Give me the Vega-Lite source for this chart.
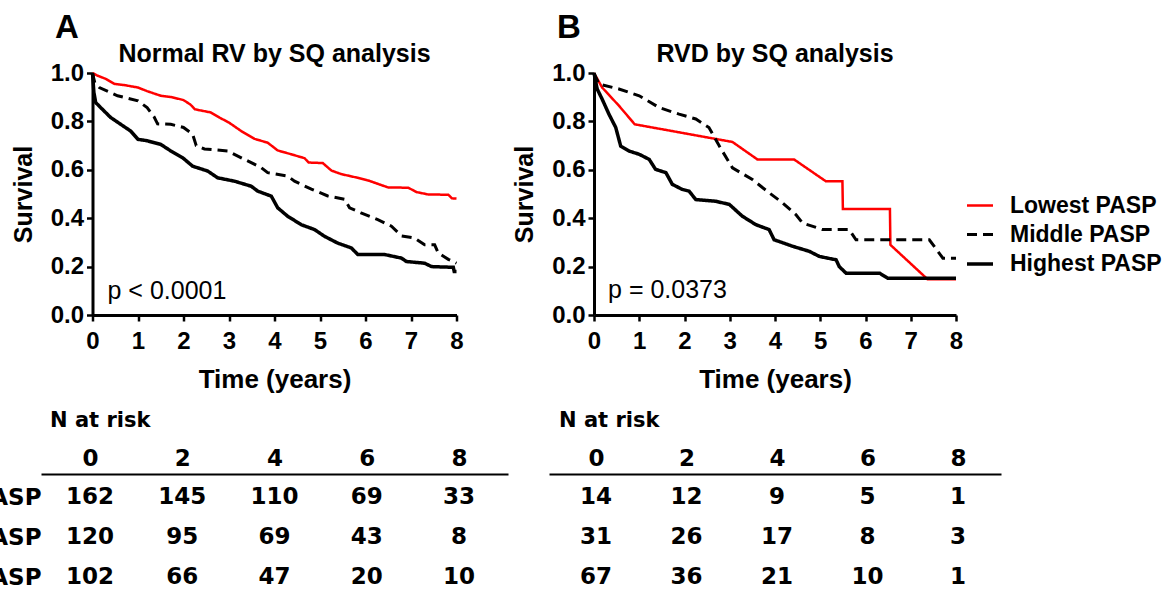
{
  "$schema": "https://vega.github.io/schema/vega-lite/v6.json",
  "autosize": {"type": "pad"},
  "padding": {"left": -134, "top": 12, "right": 5, "bottom": 5},
  "background": "white",
  "config": {
    "view": {"stroke": null},
    "font": "Liberation Sans",
    "axis": {"grid": false, "domainColor": "#000", "tickColor": "#000", "labelColor": "#000", "titleColor": "#000", "labelFlush": false, "labelOverlap": false, "labelBound": false},
    "title": {"color": "#000"},
    "text": {"color": "#000"}
  },
  "datasets": {
    "curveA": [
      {"group": "Lowest PASP", "t": 0, "s": 1.0}, {"group": "Lowest PASP", "t": 0.1, "s": 0.99}, {"group": "Lowest PASP", "t": 0.3, "s": 0.975}, {"group": "Lowest PASP", "t": 0.48, "s": 0.955}, {"group": "Lowest PASP", "t": 0.7, "s": 0.95}, {"group": "Lowest PASP", "t": 1.0, "s": 0.94}, {"group": "Lowest PASP", "t": 1.2, "s": 0.925}, {"group": "Lowest PASP", "t": 1.5, "s": 0.906}, {"group": "Lowest PASP", "t": 1.75, "s": 0.9}, {"group": "Lowest PASP", "t": 2.0, "s": 0.888}, {"group": "Lowest PASP", "t": 2.15, "s": 0.87}, {"group": "Lowest PASP", "t": 2.25, "s": 0.85}, {"group": "Lowest PASP", "t": 2.6, "s": 0.837}, {"group": "Lowest PASP", "t": 2.8, "s": 0.815}, {"group": "Lowest PASP", "t": 3.0, "s": 0.795}, {"group": "Lowest PASP", "t": 3.27, "s": 0.76}, {"group": "Lowest PASP", "t": 3.56, "s": 0.728}, {"group": "Lowest PASP", "t": 3.85, "s": 0.712}, {"group": "Lowest PASP", "t": 4.07, "s": 0.68}, {"group": "Lowest PASP", "t": 4.37, "s": 0.664}, {"group": "Lowest PASP", "t": 4.66, "s": 0.648}, {"group": "Lowest PASP", "t": 4.75, "s": 0.63}, {"group": "Lowest PASP", "t": 5.06, "s": 0.628}, {"group": "Lowest PASP", "t": 5.25, "s": 0.597}, {"group": "Lowest PASP", "t": 5.47, "s": 0.582}, {"group": "Lowest PASP", "t": 5.83, "s": 0.567}, {"group": "Lowest PASP", "t": 6.06, "s": 0.556}, {"group": "Lowest PASP", "t": 6.3, "s": 0.54}, {"group": "Lowest PASP", "t": 6.5, "s": 0.527}, {"group": "Lowest PASP", "t": 6.94, "s": 0.526}, {"group": "Lowest PASP", "t": 7.12, "s": 0.508}, {"group": "Lowest PASP", "t": 7.38, "s": 0.498}, {"group": "Lowest PASP", "t": 7.82, "s": 0.497}, {"group": "Lowest PASP", "t": 7.9, "s": 0.482}, {"group": "Lowest PASP", "t": 8.0, "s": 0.481},
      {"group": "Middle PASP", "t": 0, "s": 1.0}, {"group": "Middle PASP", "t": 0.05, "s": 0.96}, {"group": "Middle PASP", "t": 0.15, "s": 0.94}, {"group": "Middle PASP", "t": 0.55, "s": 0.906}, {"group": "Middle PASP", "t": 1.0, "s": 0.885}, {"group": "Middle PASP", "t": 1.2, "s": 0.857}, {"group": "Middle PASP", "t": 1.35, "s": 0.82}, {"group": "Middle PASP", "t": 1.43, "s": 0.79}, {"group": "Middle PASP", "t": 1.72, "s": 0.788}, {"group": "Middle PASP", "t": 2.0, "s": 0.775}, {"group": "Middle PASP", "t": 2.2, "s": 0.747}, {"group": "Middle PASP", "t": 2.28, "s": 0.7}, {"group": "Middle PASP", "t": 2.46, "s": 0.686}, {"group": "Middle PASP", "t": 2.97, "s": 0.678}, {"group": "Middle PASP", "t": 3.34, "s": 0.643}, {"group": "Middle PASP", "t": 3.7, "s": 0.61}, {"group": "Middle PASP", "t": 3.85, "s": 0.588}, {"group": "Middle PASP", "t": 4.29, "s": 0.574}, {"group": "Middle PASP", "t": 4.44, "s": 0.553}, {"group": "Middle PASP", "t": 4.81, "s": 0.52}, {"group": "Middle PASP", "t": 5.17, "s": 0.492}, {"group": "Middle PASP", "t": 5.54, "s": 0.478}, {"group": "Middle PASP", "t": 5.65, "s": 0.443}, {"group": "Middle PASP", "t": 5.9, "s": 0.422}, {"group": "Middle PASP", "t": 6.27, "s": 0.394}, {"group": "Middle PASP", "t": 6.57, "s": 0.367}, {"group": "Middle PASP", "t": 6.79, "s": 0.327}, {"group": "Middle PASP", "t": 7.08, "s": 0.318}, {"group": "Middle PASP", "t": 7.3, "s": 0.29}, {"group": "Middle PASP", "t": 7.52, "s": 0.29}, {"group": "Middle PASP", "t": 7.6, "s": 0.256}, {"group": "Middle PASP", "t": 7.82, "s": 0.23}, {"group": "Middle PASP", "t": 8.0, "s": 0.214},
      {"group": "Highest PASP", "t": 0, "s": 1.0}, {"group": "Highest PASP", "t": 0.03, "s": 0.92}, {"group": "Highest PASP", "t": 0.07, "s": 0.878}, {"group": "Highest PASP", "t": 0.18, "s": 0.857}, {"group": "Highest PASP", "t": 0.4, "s": 0.816}, {"group": "Highest PASP", "t": 0.62, "s": 0.788}, {"group": "Highest PASP", "t": 0.84, "s": 0.76}, {"group": "Highest PASP", "t": 1.0, "s": 0.726}, {"group": "Highest PASP", "t": 1.2, "s": 0.72}, {"group": "Highest PASP", "t": 1.5, "s": 0.705}, {"group": "Highest PASP", "t": 1.72, "s": 0.678}, {"group": "Highest PASP", "t": 1.98, "s": 0.65}, {"group": "Highest PASP", "t": 2.2, "s": 0.615}, {"group": "Highest PASP", "t": 2.53, "s": 0.595}, {"group": "Highest PASP", "t": 2.75, "s": 0.567}, {"group": "Highest PASP", "t": 3.12, "s": 0.553}, {"group": "Highest PASP", "t": 3.49, "s": 0.532}, {"group": "Highest PASP", "t": 3.63, "s": 0.512}, {"group": "Highest PASP", "t": 3.93, "s": 0.491}, {"group": "Highest PASP", "t": 4.07, "s": 0.443}, {"group": "Highest PASP", "t": 4.29, "s": 0.408}, {"group": "Highest PASP", "t": 4.59, "s": 0.373}, {"group": "Highest PASP", "t": 4.88, "s": 0.353}, {"group": "Highest PASP", "t": 5.1, "s": 0.325}, {"group": "Highest PASP", "t": 5.39, "s": 0.297}, {"group": "Highest PASP", "t": 5.69, "s": 0.277}, {"group": "Highest PASP", "t": 5.83, "s": 0.25}, {"group": "Highest PASP", "t": 6.42, "s": 0.25}, {"group": "Highest PASP", "t": 6.79, "s": 0.235}, {"group": "Highest PASP", "t": 6.9, "s": 0.221}, {"group": "Highest PASP", "t": 7.3, "s": 0.214}, {"group": "Highest PASP", "t": 7.45, "s": 0.2}, {"group": "Highest PASP", "t": 7.93, "s": 0.197}, {"group": "Highest PASP", "t": 7.95, "s": 0.18}, {"group": "Highest PASP", "t": 8.0, "s": 0.18}
    ],
    "curveB": [
      {"group": "Lowest PASP", "t": 0, "s": 1.0}, {"group": "Lowest PASP", "t": 0.18, "s": 0.94}, {"group": "Lowest PASP", "t": 0.55, "s": 0.865}, {"group": "Lowest PASP", "t": 0.9, "s": 0.788}, {"group": "Lowest PASP", "t": 3.06, "s": 0.715}, {"group": "Lowest PASP", "t": 3.61, "s": 0.643}, {"group": "Lowest PASP", "t": 4.42, "s": 0.643}, {"group": "Lowest PASP", "t": 5.12, "s": 0.553}, {"group": "Lowest PASP", "t": 5.49, "s": 0.553}, {"group": "Lowest PASP", "t": 5.5, "s": 0.438}, {"group": "Lowest PASP", "t": 6.54, "s": 0.438}, {"group": "Lowest PASP", "t": 6.55, "s": 0.29}, {"group": "Lowest PASP", "t": 7.37, "s": 0.148}, {"group": "Lowest PASP", "t": 8.0, "s": 0.148},
      {"group": "Middle PASP", "t": 0, "s": 1.0}, {"group": "Middle PASP", "t": 0.11, "s": 0.954}, {"group": "Middle PASP", "t": 0.55, "s": 0.934}, {"group": "Middle PASP", "t": 1.0, "s": 0.906}, {"group": "Middle PASP", "t": 1.44, "s": 0.857}, {"group": "Middle PASP", "t": 1.88, "s": 0.83}, {"group": "Middle PASP", "t": 2.25, "s": 0.81}, {"group": "Middle PASP", "t": 2.54, "s": 0.775}, {"group": "Middle PASP", "t": 2.77, "s": 0.698}, {"group": "Middle PASP", "t": 3.06, "s": 0.608}, {"group": "Middle PASP", "t": 3.5, "s": 0.56}, {"group": "Middle PASP", "t": 3.87, "s": 0.505}, {"group": "Middle PASP", "t": 4.17, "s": 0.463}, {"group": "Middle PASP", "t": 4.46, "s": 0.415}, {"group": "Middle PASP", "t": 4.61, "s": 0.38}, {"group": "Middle PASP", "t": 5.05, "s": 0.353}, {"group": "Middle PASP", "t": 5.64, "s": 0.353}, {"group": "Middle PASP", "t": 5.79, "s": 0.311}, {"group": "Middle PASP", "t": 7.41, "s": 0.311}, {"group": "Middle PASP", "t": 7.71, "s": 0.235}, {"group": "Middle PASP", "t": 8.0, "s": 0.235},
      {"group": "Highest PASP", "t": 0, "s": 1.0}, {"group": "Highest PASP", "t": 0.07, "s": 0.934}, {"group": "Highest PASP", "t": 0.18, "s": 0.892}, {"group": "Highest PASP", "t": 0.33, "s": 0.83}, {"group": "Highest PASP", "t": 0.48, "s": 0.775}, {"group": "Highest PASP", "t": 0.59, "s": 0.698}, {"group": "Highest PASP", "t": 0.77, "s": 0.678}, {"group": "Highest PASP", "t": 1.0, "s": 0.664}, {"group": "Highest PASP", "t": 1.22, "s": 0.643}, {"group": "Highest PASP", "t": 1.36, "s": 0.602}, {"group": "Highest PASP", "t": 1.59, "s": 0.588}, {"group": "Highest PASP", "t": 1.73, "s": 0.54}, {"group": "Highest PASP", "t": 1.95, "s": 0.519}, {"group": "Highest PASP", "t": 2.1, "s": 0.512}, {"group": "Highest PASP", "t": 2.25, "s": 0.477}, {"group": "Highest PASP", "t": 2.69, "s": 0.47}, {"group": "Highest PASP", "t": 2.99, "s": 0.457}, {"group": "Highest PASP", "t": 3.28, "s": 0.408}, {"group": "Highest PASP", "t": 3.58, "s": 0.373}, {"group": "Highest PASP", "t": 3.87, "s": 0.353}, {"group": "Highest PASP", "t": 3.98, "s": 0.311}, {"group": "Highest PASP", "t": 4.39, "s": 0.284}, {"group": "Highest PASP", "t": 4.76, "s": 0.263}, {"group": "Highest PASP", "t": 4.98, "s": 0.242}, {"group": "Highest PASP", "t": 5.35, "s": 0.228}, {"group": "Highest PASP", "t": 5.42, "s": 0.2}, {"group": "Highest PASP", "t": 5.57, "s": 0.173}, {"group": "Highest PASP", "t": 6.31, "s": 0.173}, {"group": "Highest PASP", "t": 6.49, "s": 0.152}, {"group": "Highest PASP", "t": 8.0, "s": 0.152}
    ],
    "riskA": [
      {"group": "Lowest PASP", "t": 0, "n": 162}, {"group": "Lowest PASP", "t": 2, "n": 145}, {"group": "Lowest PASP", "t": 4, "n": 110}, {"group": "Lowest PASP", "t": 6, "n": 69}, {"group": "Lowest PASP", "t": 8, "n": 33},
      {"group": "Middle PASP", "t": 0, "n": 120}, {"group": "Middle PASP", "t": 2, "n": 95}, {"group": "Middle PASP", "t": 4, "n": 69}, {"group": "Middle PASP", "t": 6, "n": 43}, {"group": "Middle PASP", "t": 8, "n": 8},
      {"group": "Highest PASP", "t": 0, "n": 102}, {"group": "Highest PASP", "t": 2, "n": 66}, {"group": "Highest PASP", "t": 4, "n": 47}, {"group": "Highest PASP", "t": 6, "n": 20}, {"group": "Highest PASP", "t": 8, "n": 10}
    ],
    "riskB": [
      {"group": "Lowest PASP", "t": 0, "n": 14}, {"group": "Lowest PASP", "t": 2, "n": 12}, {"group": "Lowest PASP", "t": 4, "n": 9}, {"group": "Lowest PASP", "t": 6, "n": 5}, {"group": "Lowest PASP", "t": 8, "n": 1},
      {"group": "Middle PASP", "t": 0, "n": 31}, {"group": "Middle PASP", "t": 2, "n": 26}, {"group": "Middle PASP", "t": 4, "n": 17}, {"group": "Middle PASP", "t": 6, "n": 8}, {"group": "Middle PASP", "t": 8, "n": 3},
      {"group": "Highest PASP", "t": 0, "n": 67}, {"group": "Highest PASP", "t": 2, "n": 36}, {"group": "Highest PASP", "t": 4, "n": 21}, {"group": "Highest PASP", "t": 6, "n": 10}, {"group": "Highest PASP", "t": 8, "n": 1}
    ]
  },
  "hconcat": [
    {
      "title": {"text": "A", "anchor": "start", "frame": "group", "dx": 14, "fontSize": 33, "fontWeight": "bold", "font": "Liberation Sans", "offset": -3},
      "vconcat": [
        {
          "width": 364, "height": 242,
          "title": {"text": "Normal RV by SQ analysis", "fontSize": 25, "fontWeight": "bold", "font": "Liberation Sans", "anchor": "middle", "frame": "group", "offset": -6},
          "layer": [
            {
              "data": {"name": "curveA"},
              "mark": {"type": "line", "strokeJoin": "miter"},
              "encoding": {
                "x": {"field": "t", "type": "quantitative", "scale": {"domain": [0, 8], "nice": false, "zero": false}, "axis": {"title": "Time (years)", "values": [0, 1, 2, 3, 4, 5, 6, 7, 8], "format": "d", "domainWidth": 3, "tickWidth": 2.5, "tickSize": 6, "labelFontSize": 24, "labelFontWeight": "bold", "labelPadding": 8, "titleFontSize": 26, "titleFontWeight": "bold", "titlePadding": 13}},
                "y": {"field": "s", "type": "quantitative", "scale": {"domain": [0, 1], "nice": false}, "axis": {"title": "Survival", "values": [0, 0.2, 0.4, 0.6, 0.8, 1.0], "format": ".1f", "domainWidth": 3, "tickWidth": 2.5, "tickSize": 6, "labelFontSize": 24, "labelFontWeight": "bold", "labelPadding": 3, "titleFontSize": 25, "titleFontWeight": "bold", "titlePadding": 14}},
                "color": {"field": "group", "type": "ordinal", "scale": {"domain": ["Lowest PASP", "Middle PASP", "Highest PASP"], "range": ["#ff0000", "#000000", "#000000"]}, "legend": null},
                "strokeDash": {"field": "group", "type": "ordinal", "scale": {"domain": ["Lowest PASP", "Middle PASP", "Highest PASP"], "range": [[1, 0], [10, 6], [1, 0]]}, "legend": null},
                "strokeWidth": {"field": "group", "type": "ordinal", "scale": {"domain": ["Lowest PASP", "Middle PASP", "Highest PASP"], "range": [2.5, 3.5, 4.5]}, "legend": null}
              }
            },
            {
              "data": {"values": [{}]},
              "mark": {"type": "text", "align": "left", "baseline": "middle", "fontSize": 25, "font": "Liberation Sans"},
              "encoding": {"x": {"datum": 0.33}, "y": {"datum": 0.1}, "text": {"value": "p < 0.0001"}}
            }
          ]
        },
        {
          "width": 467, "height": 126,
          "data": {"name": "riskA"},
          "title": {"text": "N at risk", "anchor": "start", "frame": "group", "dx": 9, "fontSize": 21, "font": "DejaVu Sans", "fontWeight": "bold", "offset": 16},
          "mark": {"type": "text", "font": "DejaVu Sans", "fontWeight": "bold", "fontSize": 23},
          "encoding": {
            "x": {"field": "t", "type": "quantitative", "scale": {"domain": [-1.06, 9.06], "nice": false, "zero": false}, "axis": {"orient": "top", "values": [0, 2, 4, 6, 8], "format": "d", "title": null, "ticks": false, "tickSize": 0, "domainWidth": 2, "labelFont": "DejaVu Sans", "labelFontWeight": "bold", "labelFontSize": 23, "labelPadding": 4}},
            "y": {"field": "group", "type": "ordinal", "scale": {"type": "point", "domain": ["Lowest PASP", "Middle PASP", "Highest PASP"], "padding": 0.575}, "axis": {"title": null, "domain": false, "ticks": false, "tickSize": 0, "labelPadding": 0, "labelFont": "DejaVu Sans", "labelFontWeight": "bold", "labelFontSize": 23}},
            "text": {"field": "n", "type": "quantitative"}
          }
        }
      ],
      "spacing": 159,
      "center": true,
      "bounds": "flush",
      "resolve": {"scale": {"x": "independent", "y": "independent", "color": "independent", "strokeDash": "independent", "strokeWidth": "independent"}}
    },
    {
      "title": {"text": "B", "anchor": "start", "frame": "group", "dx": 8, "fontSize": 33, "fontWeight": "bold", "font": "Liberation Sans", "offset": -3},
      "vconcat": [
        {
          "width": 362, "height": 242,
          "title": {"text": "RVD by SQ analysis", "fontSize": 25, "fontWeight": "bold", "font": "Liberation Sans", "anchor": "middle", "frame": "group", "offset": -6},
          "layer": [
            {
              "data": {"name": "curveB"},
              "mark": {"type": "line", "strokeJoin": "miter"},
              "encoding": {
                "x": {"field": "t", "type": "quantitative", "scale": {"domain": [0, 8], "nice": false, "zero": false}, "axis": {"title": "Time (years)", "values": [0, 1, 2, 3, 4, 5, 6, 7, 8], "format": "d", "domainWidth": 3, "tickWidth": 2.5, "tickSize": 6, "labelFontSize": 24, "labelFontWeight": "bold", "labelPadding": 8, "titleFontSize": 26, "titleFontWeight": "bold", "titlePadding": 13}},
                "y": {"field": "s", "type": "quantitative", "scale": {"domain": [0, 1], "nice": false}, "axis": {"title": "Survival", "values": [0, 0.2, 0.4, 0.6, 0.8, 1.0], "format": ".1f", "domainWidth": 3, "tickWidth": 2.5, "tickSize": 6, "labelFontSize": 24, "labelFontWeight": "bold", "labelPadding": 3, "titleFontSize": 25, "titleFontWeight": "bold", "titlePadding": 14}},
                "color": {"field": "group", "type": "ordinal", "scale": {"domain": ["Lowest PASP", "Middle PASP", "Highest PASP"], "range": ["#ff0000", "#000000", "#000000"]}, "legend": {"orient": "none", "legendX": 371, "legendY": 118, "title": null, "symbolType": "stroke", "symbolSize": 676, "labelFontSize": 23, "labelFontWeight": "bold", "labelFont": "Liberation Sans", "labelColor": "#000", "labelOffset": 15, "rowPadding": 2}},
                "strokeDash": {"field": "group", "type": "ordinal", "scale": {"domain": ["Lowest PASP", "Middle PASP", "Highest PASP"], "range": [[1, 0], [10, 6], [1, 0]]}},
                "strokeWidth": {"field": "group", "type": "ordinal", "scale": {"domain": ["Lowest PASP", "Middle PASP", "Highest PASP"], "range": [2.5, 3.5, 4.5]}}
              }
            },
            {
              "data": {"values": [{}]},
              "mark": {"type": "text", "align": "left", "baseline": "middle", "fontSize": 25, "font": "Liberation Sans"},
              "encoding": {"x": {"datum": 0.31}, "y": {"datum": 0.105}, "text": {"value": "p = 0.0373"}}
            }
          ]
        },
        {
          "width": 452, "height": 126,
          "data": {"name": "riskB"},
          "title": {"text": "N at risk", "anchor": "start", "frame": "group", "dx": 10, "fontSize": 21, "font": "DejaVu Sans", "fontWeight": "bold", "offset": 16},
          "mark": {"type": "text", "font": "DejaVu Sans", "fontWeight": "bold", "fontSize": 23},
          "encoding": {
            "x": {"field": "t", "type": "quantitative", "scale": {"domain": [-1.04, 8.95], "nice": false, "zero": false}, "axis": {"orient": "top", "values": [0, 2, 4, 6, 8], "format": "d", "title": null, "ticks": false, "tickSize": 0, "domainWidth": 2, "labelFont": "DejaVu Sans", "labelFontWeight": "bold", "labelFontSize": 23, "labelPadding": 4}},
            "y": {"field": "group", "type": "ordinal", "scale": {"type": "point", "domain": ["Lowest PASP", "Middle PASP", "Highest PASP"], "padding": 0.575}, "axis": null},
            "text": {"field": "n", "type": "quantitative"}
          }
        }
      ],
      "spacing": 159,
      "center": true,
      "bounds": "flush",
      "resolve": {"scale": {"x": "independent", "y": "independent", "color": "independent", "strokeDash": "independent", "strokeWidth": "independent"}}
    }
  ],
  "spacing": 4,
  "resolve": {"scale": {"x": "independent", "y": "independent", "color": "independent", "strokeDash": "independent", "strokeWidth": "independent"}, "legend": {"color": "independent", "strokeDash": "independent", "strokeWidth": "independent"}}
}
